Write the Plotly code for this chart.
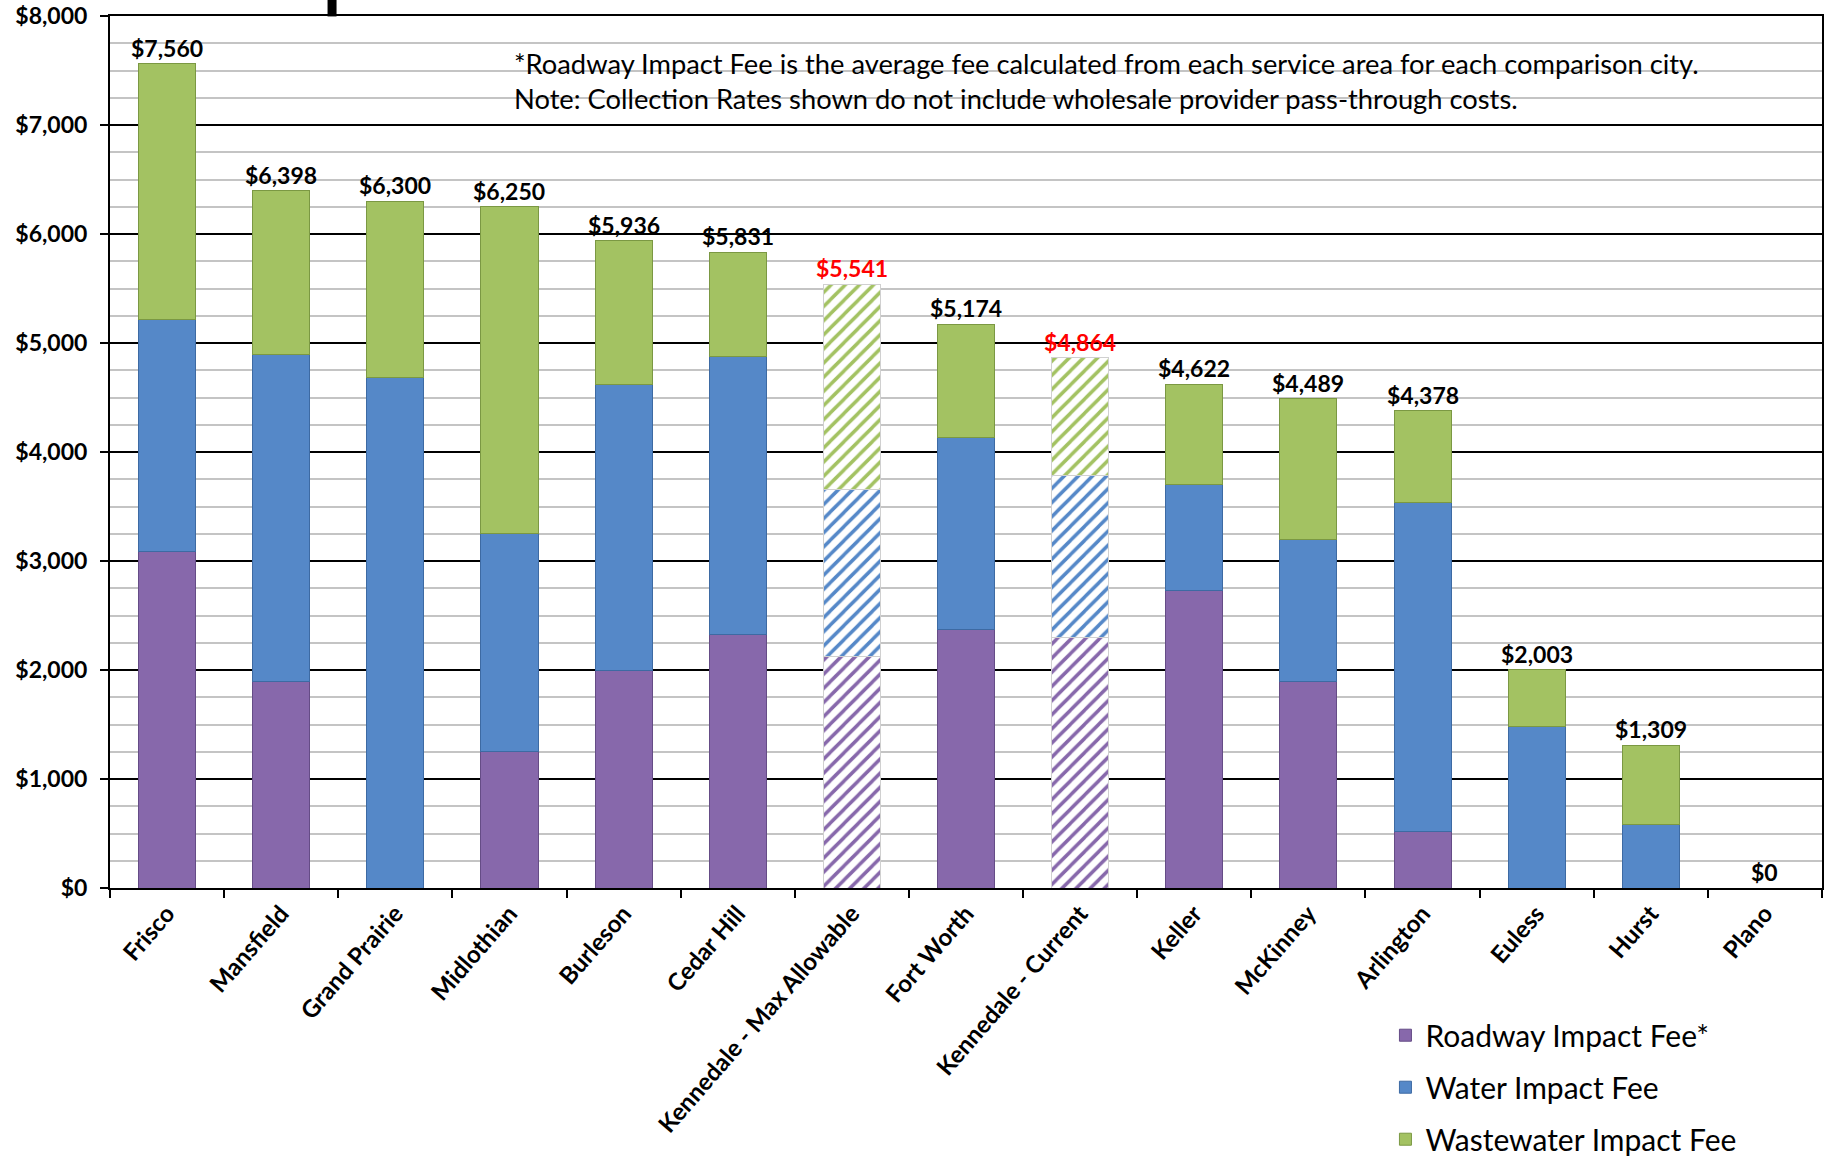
import plotly.graph_objects as go

# Impact fee comparison by city (single-family residential)
cities = [
    "Frisco", "Mansfield", "Grand Prairie", "Midlothian", "Burleson",
    "Cedar Hill", "Kennedale - Max Allowable", "Fort Worth",
    "Kennedale - Current", "Keller", "McKinney", "Arlington",
    "Euless", "Hurst", "Plano",
]
roadway_fee = [3090, 1898, 0, 1250, 2000, 2330, 2120, 2370, 2300, 2725, 1895, 515, 0, 0, 0]
water_fee = [2125, 3000, 4680, 2000, 2620, 2550, 1535, 1760, 1485, 980, 1300, 3025, 1480, 580, 0]
wastewater_fee = [2345, 1500, 1620, 3000, 1316, 951, 1886, 1044, 1079, 917, 1294, 838, 523, 729, 0]

series_names = ["Roadway Impact Fee*", "Water Impact Fee", "Wastewater Impact Fee"]
y_ticks = [0, 1000, 2000, 3000, 4000, 5000, 6000, 7000, 8000]
note_lines = [
    "*Roadway Impact Fee is the average fee calculated from each service area for each comparison city.",
    "Note: Collection Rates shown do not include wholesale provider pass-through costs.",
]

FONT = "Lato, 'Open Sans', sans-serif"
fills = ["#8768ab", "#5588c8", "#a3c262"]
edges = ["#654c86", "#3d6aa3", "#7b9843"]

# Kennedale scenarios are drawn hatched with red totals
kennedale = [c.startswith("Kennedale") for c in cities]
totals = [r + w + ww for r, w, ww in zip(roadway_fee, water_fee, wastewater_fee)]

fig = go.Figure()
for name, vals, fill, edge in zip(series_names, [roadway_fee, water_fee, wastewater_fee], fills, edges):
    fig.add_trace(go.Bar(
        name=name,
        x=cities,
        y=vals,
        legendgroup=name,
        marker=dict(
            color=fill,
            line=dict(color=["#d0d0d0" if k else edge for k in kennedale], width=1),
            pattern=dict(
                shape=["/" if k else "" for k in kennedale],
                fillmode="replace",
                fgcolor=fill,
                bgcolor="white",
                size=10,
                solidity=0.35,
            ),
        ),
        hoverinfo="x+y+name",
    ))

# total labels above each stack
for city, tot, k in zip(cities, totals, kennedale):
    fig.add_annotation(
        x=city, y=tot, xref="x", yref="y",
        text=f"${tot:,}",
        showarrow=False, yanchor="bottom", yshift=0,
        font=dict(family=FONT, size=23, color="#ff0000" if k else "black", weight="bold"),
    )

# white panel holding the footnotes
fig.add_shape(type="rect", xref="paper", yref="y",
              x0=0.2225, x1=0.994, y0=6955, y1=7985,
              fillcolor="white", line=dict(width=0), layer="between")
for i, line in enumerate(note_lines):
    fig.add_annotation(
        x=0.2348, y=[0.945, 0.905][i], xref="paper", yref="paper",
        text=line, showarrow=False, xanchor="left", yanchor="middle",
        font=dict(family=FONT, size=27.3, color="black"),
    )

# stub of a connector line cut off at the top edge
fig.add_shape(type="line", xref="paper", yref="paper",
              x0=0.1297, x1=0.1297, y0=0.9995, y1=1.03,
              line=dict(color="black", width=9))

fig.update_layout(
    width=1825, height=1164,
    barmode="stack", bargap=0.5,
    plot_bgcolor="white", paper_bgcolor="white",
    margin=dict(l=110, r=3, t=16, b=276, autoexpand=False),
    font=dict(family=FONT, color="black"),
    showlegend=True,
    legend=dict(
        x=0.745, y=-0.139, xanchor="left", yanchor="top",
        traceorder="grouped", tracegroupgap=10,
        font=dict(family=FONT, size=30, color="black"),
        bgcolor="rgba(0,0,0,0)",
    ),
)
fig.update_xaxes(
    type="category", tickson="boundaries", ticks="outside", ticklen=8, tickwidth=2,
    tickcolor="black", showline=True, linecolor="black", linewidth=2, mirror=True,
    tickangle=-49, automargin=False,
    tickfont=dict(family=FONT, size=24, color="black", weight="bold"),
    showgrid=False,
)
fig.update_yaxes(
    range=[0, 8000], tickvals=y_ticks, tickformat="$,.0f",
    ticks="outside", ticklen=8, tickwidth=2, tickcolor="black",
    showline=True, linecolor="black", linewidth=2, mirror=True,
    showgrid=True, gridcolor="black", gridwidth=2,
    minor=dict(dtick=250, showgrid=True, gridcolor="#c4c4c4", gridwidth=2, ticks=""),
    tickfont=dict(family=FONT, size=23, color="black", weight="bold"),
    ticklabelstandoff=8,
    zeroline=False, automargin=False,
)

fig.write_html("out.html")
